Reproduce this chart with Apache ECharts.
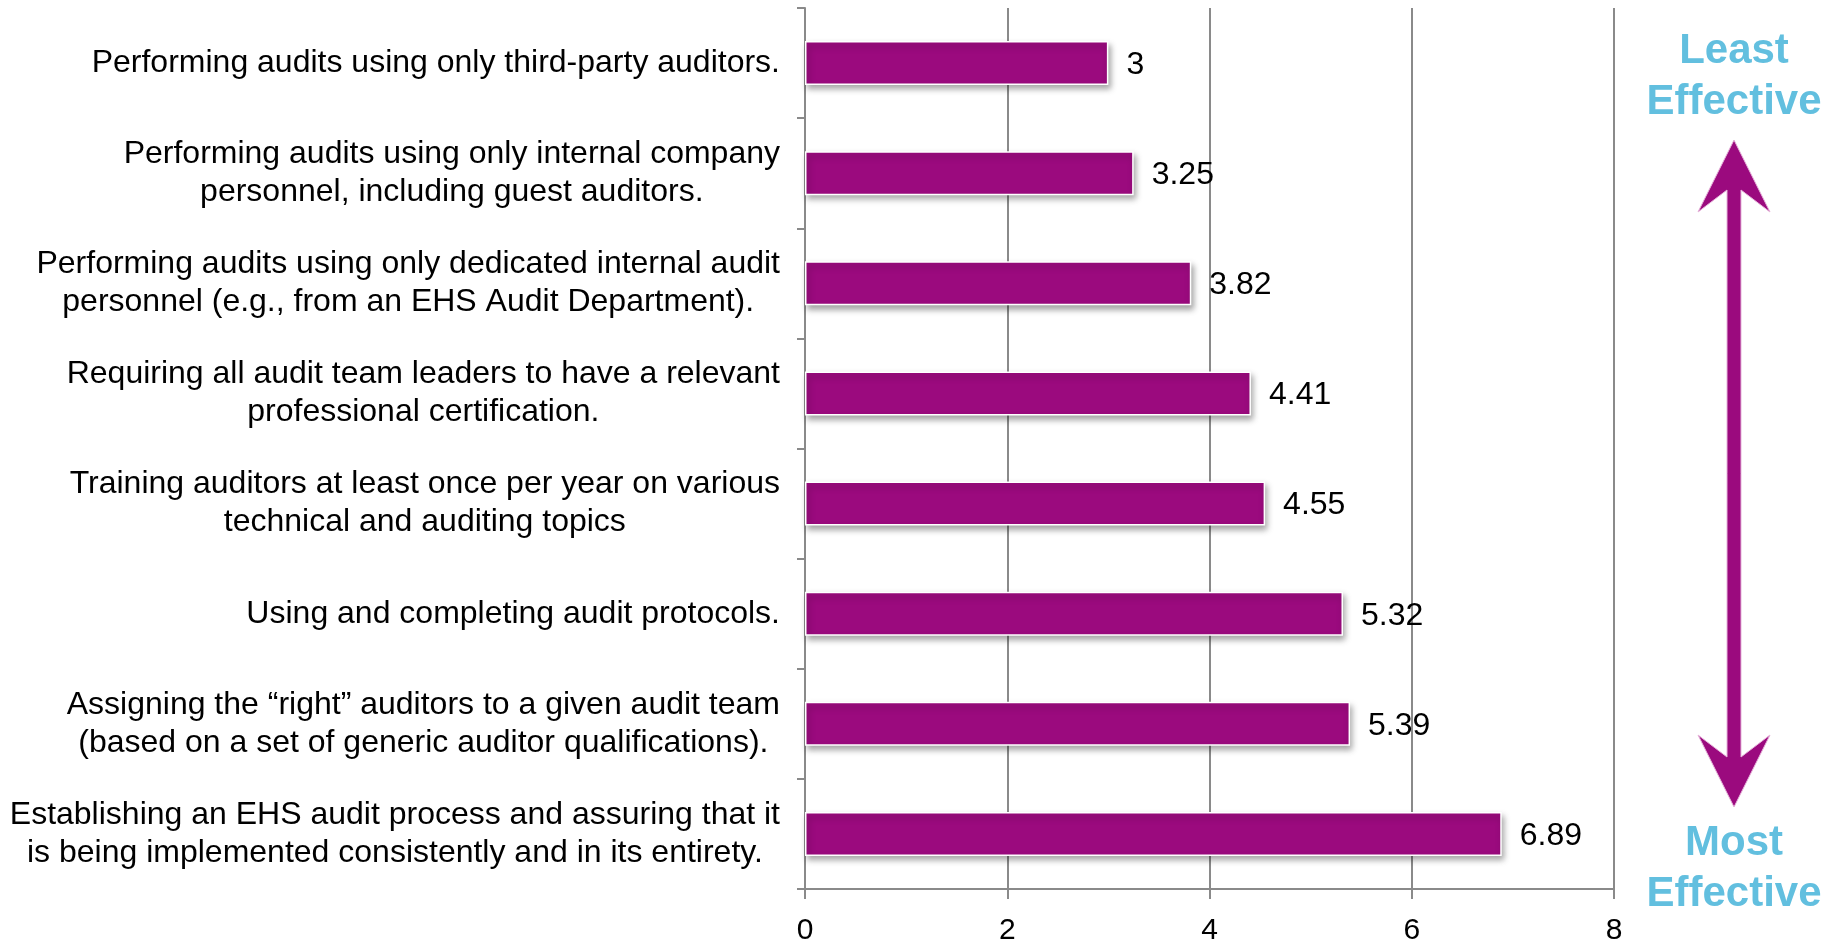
<!DOCTYPE html>
<html>
<head>
<meta charset="utf-8">
<script src="https://cdn.jsdelivr.net/npm/echarts@6/dist/echarts.min.js"></script>
<style>
html,body{margin:0;padding:0;background:#fff;}
#chart{width:1835px;height:947px;}
</style>
</head>
<body>
<div id="chart"></div>
<script>
const categories = [
  "Performing audits using only third-party auditors.",
  "Performing audits using only internal company\npersonnel, including guest auditors.",
  "Performing audits using only dedicated internal audit\npersonnel (e.g., from an EHS Audit Department).",
  "Requiring all audit team leaders to have a relevant\nprofessional certification.",
  "Training auditors at least once per year on various\ntechnical and auditing topics",
  "Using and completing audit protocols.",
  "Assigning the \u201cright\u201d auditors to a given audit team\n(based on a set of generic auditor qualifications).",
  "Establishing an EHS audit process and assuring that it\nis being implemented consistently and in its entirety."
];
const values = [3, 3.25, 3.82, 4.41, 4.55, 5.32, 5.39, 6.89];
const xTicks = [0, 2, 4, 6, 8];
const topNote = "Least\nEffective";
const bottomNote = "Most\nEffective";

const FONT = '"Liberation Sans", Arial, sans-serif';
const PURPLE = '#9B0A7E';
const BLUE = '#62BFDF';

const chart = echarts.init(document.getElementById('chart'));
const option = {
  animation: false,
  backgroundColor: '#fff',
  grid: { left: 805, right: 221, top: 8, bottom: 58, containLabel: false },
  xAxis: {
    type: 'value',
    min: xTicks[0],
    max: xTicks[xTicks.length - 1],
    interval: 2,
    axisLine: { show: true, lineStyle: { color: '#8a8a8a', width: 2 } },
    axisTick: { show: true, length: 10, lineStyle: { color: '#8a8a8a', width: 2 } },
    splitLine: { show: true, lineStyle: { color: '#8a8a8a', width: 2 } },
    axisLabel: { fontFamily: FONT, fontSize: 30, color: '#000', margin: 27 }
  },
  yAxis: {
    type: 'category',
    inverse: true,
    data: categories,
    axisLine: { show: true, lineStyle: { color: '#8a8a8a', width: 2 } },
    axisTick: { show: true, length: 8, lineStyle: { color: '#8a8a8a', width: 2 } },
    axisLabel: {
      margin: 25,
      fontFamily: FONT,
      fontSize: 32,
      color: '#000',
      lineHeight: 38,
      formatter: function (v) {
        return v.split('\n').map(l => '{c|' + l + '}').join('\n');
      },
      rich: { c: { align: 'center', fontFamily: FONT, fontSize: 32, lineHeight: 38, color: '#000' } }
    }
  },
  series: [{
    type: 'bar',
    data: values,
    barCategoryGap: '60%',
    itemStyle: {
      color: PURPLE,
      borderColor: '#ffffff',
      borderWidth: 1.5,
      shadowColor: 'rgba(0,0,0,0.35)',
      shadowBlur: 6,
      shadowOffsetX: 2,
      shadowOffsetY: 4
    },
    label: {
      show: true,
      position: 'right',
      distance: 18,
      offset: [0, 2],
      fontFamily: FONT,
      fontSize: 32,
      color: '#000'
    }
  }],
  graphic: [
    {
      type: 'polygon',
      shape: {
        points: [
          [1734, 140], [1770, 212], [1741, 190], [1741, 757], [1770, 735],
          [1734, 807], [1698, 735], [1727, 757], [1727, 190], [1698, 212]
        ]
      },
      style: { fill: PURPLE, stroke: '#E6B3DA', lineWidth: 1 }
    },
    {
      type: 'text',
      x: 1734, y: 77,
      style: {
        text: topNote, fill: BLUE, font: 'bold 42px ' + FONT,
        textAlign: 'center', textVerticalAlign: 'middle', lineHeight: 51
      }
    },
    {
      type: 'text',
      x: 1734, y: 869,
      style: {
        text: bottomNote, fill: BLUE, font: 'bold 42px ' + FONT,
        textAlign: 'center', textVerticalAlign: 'middle', lineHeight: 51
      }
    }
  ]
};
chart.setOption(option);
</script>
</body>
</html>
